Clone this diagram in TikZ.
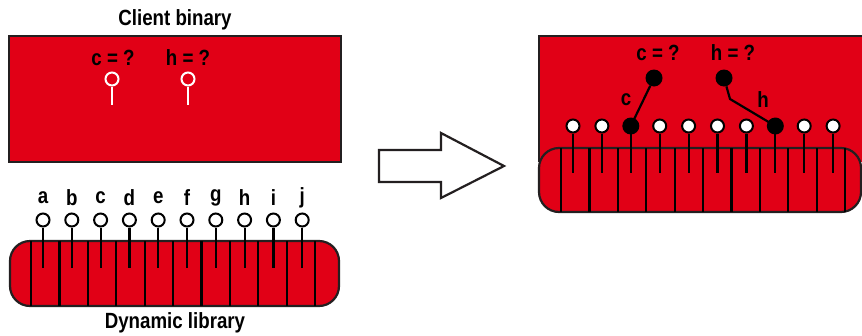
\documentclass[tikz,border=0pt]{standalone}
\usepackage{fontspec}
\setmainfont{Liberation Sans}[FakeStretch=0.85]
\definecolor{libred}{RGB}{225,0,22}
\definecolor{edge}{RGB}{35,31,32}
\tikzset{
  box/.style={draw=edge, line width=2.2pt, fill=libred},
  lbl/.style={font=\fontsize{22}{24}\selectfont\bfseries, text=black, inner sep=0pt},
  pin/.style={circle, draw=black, line width=2pt, fill=white, minimum size=13pt, inner sep=0pt},
  fullpin/.style={circle, fill=black, minimum size=17pt, inner sep=0pt},
  whitepin/.style={circle, draw=white, line width=2pt, minimum size=13pt, inner sep=0pt},
  stem/.style={draw=black, line width=2.2pt}
}
\begin{document}
\begin{tikzpicture}[x=1pt,y=-1pt]
  \useasboundingbox (0,0) rectangle (862,335);
  % client binary
  \node[lbl] (client) at (175,20) {Client binary};
  \draw[box] (9,36) rectangle (341,162);
  \node[lbl] (cq) at (113,58) {c = ?};
  \node[lbl] (hq) at (188,58) {h = ?};
  \node[whitepin] (cw) at (112,79) {};
  \node[whitepin] (hw) at (188,79) {};
  \draw[white, line width=2.2pt] (cw.south) -- ++(0,18);
  \draw[white, line width=2.2pt] (hw.south) -- ++(0,18);
  % dynamic library
  \draw[box, rounded corners=20pt] (10,241) rectangle (339,306);
  \foreach \k in {0,...,10}
    \draw[stem] (31+28.4*\k,241) -- (31+28.4*\k,306);
  \foreach \n [count=\k from 0] in {a,b,c,d,e,f,g,h,i,j} {
    \node[pin] (p\n) at (43+28.8*\k,220) {};
    \draw[stem] (p\n.south) -- ++(0,40);
    \node[lbl] (l\n) at (43+28.8*\k,198) {\n};
  }
  \node[lbl] (lib) at (175,323) {Dynamic library};
  % arrow
  \draw[draw=edge, line width=2.2pt, fill=white] (379,150) -- (441,150) -- (441,133) -- (504,166)
    -- (441,198) -- (441,182) -- (379,182) -- cycle;
  % linked binary
  \draw[box] (539,162) -- (539,36) -- (880,36) -- (880,162);
  \draw[box, rounded corners=20pt] (539,148) rectangle (861,212);
  \foreach \k in {0,...,10}
    \draw[stem] (561+28.4*\k,148) -- (561+28.4*\k,212);
  \foreach \n [count=\k from 0] in {a,b,c,d,e,f,g,h,i,j} {
    \node[pin] (q\n) at (573+28.9*\k,126) {};
    \draw[stem] (q\n.south) -- ++(0,39);
  }
  \node[fullpin] at (qc) {};
  \node[fullpin] at (qh) {};
  \node[lbl] (cq2) at (658,53) {c = ?};
  \node[lbl] (hq2) at (733,53) {h = ?};
  \node[fullpin] (cu) at (654,78) {};
  \node[fullpin] (hu) at (724,78) {};
  \coordinate (bend) at (730,99);
  \draw[stem] (cu) -- (qc);
  \draw[stem] (hu) -- (bend) -- (qh);
  \node[lbl] (cl) at (626,100) {c};
  \node[lbl] (hl) at (763,100) {h};
\end{tikzpicture}
\end{document}
